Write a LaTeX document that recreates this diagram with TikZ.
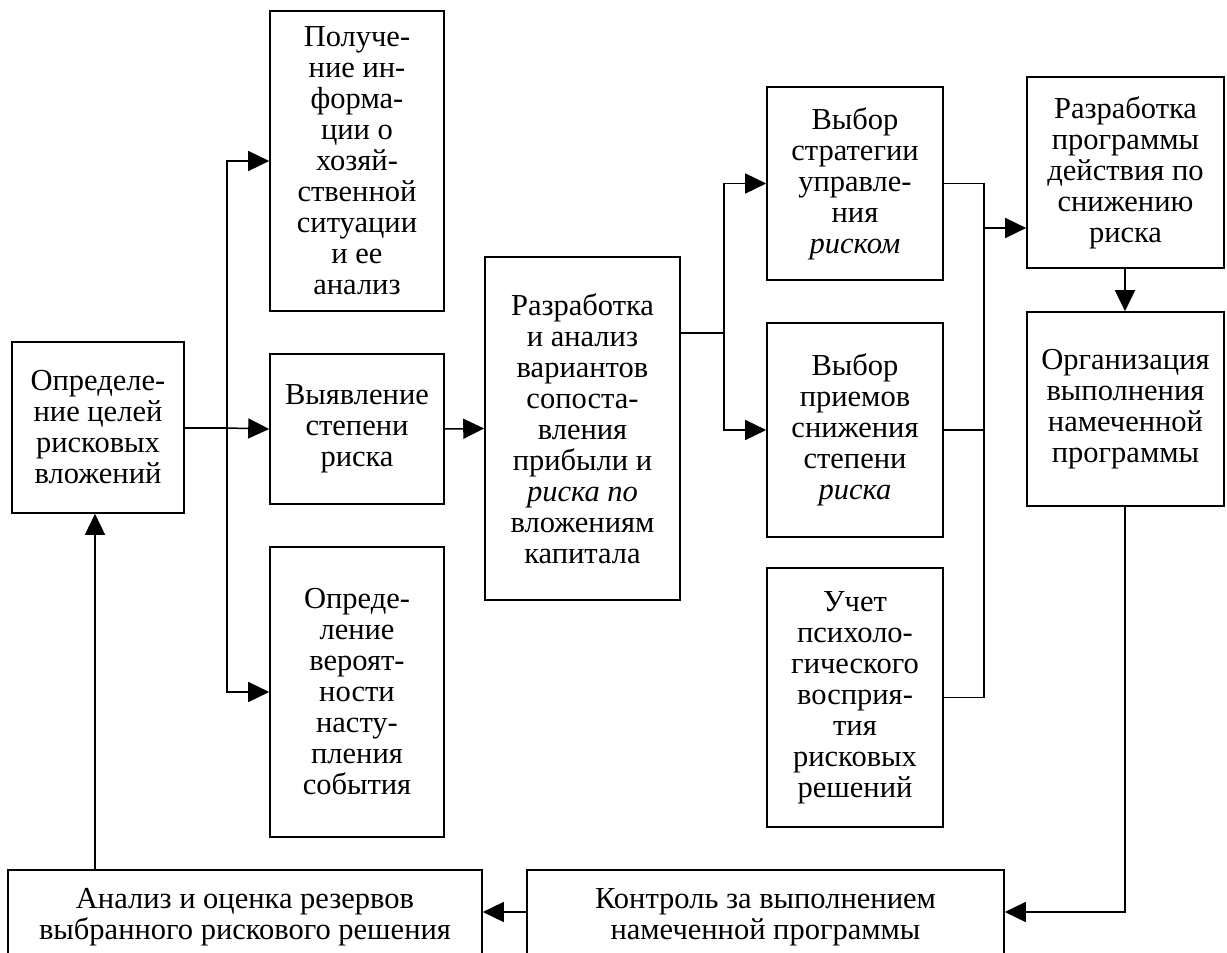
\documentclass[tikz,border=0pt]{standalone}
\usepackage{fontspec}
\setmainfont{Liberation Serif}
\usetikzlibrary{arrows.meta}
\begin{document}
\begin{tikzpicture}[x=1pt,y=-1pt,
  box/.style={draw,line width=1.6pt,align=center,inner sep=0pt,
    font=\fontsize{30.5}{31}\selectfont},
  link/.style={line width=1.5pt},
  arr/.style={link,-{Triangle[length=21pt,width=20pt]}}]
\useasboundingbox (0,0) rectangle (1227,953);
\clip (0,0) rectangle (1227,953);
\fill[white] (0,0) rectangle (1227,953);

% process blocks
\node[box,minimum width=172pt,minimum height=171pt] (A) at (98,427.5)
  {Определе-\\ние целей\\рисковых\\вложений};
\node[box,minimum width=174pt,minimum height=300pt] (B) at (357,161)
  {Получе-\\ние ин-\\форма-\\ции о\\хозяй-\\ственной\\ситуации\\и ее\\анализ};
\node[box,minimum width=174pt,minimum height=150pt] (C) at (357,429)
  {Выявление\\степени\\риска};
\node[box,minimum width=174pt,minimum height=290pt] (D) at (357,692)
  {Опреде-\\ление\\вероят-\\ности\\насту-\\пления\\события};
\node[box,minimum width=195pt,minimum height=343pt] (E) at (582.5,428.5)
  {Разработка\\и анализ\\вариантов\\сопоста-\\вления\\прибыли и\\\textit{риска по}\\вложениям\\капитала};
\node[box,minimum width=176pt,minimum height=193pt] (F) at (855,183.5)
  {Выбор\\стратегии\\управле-\\ния\\\textit{риском}};
\node[box,minimum width=176pt,minimum height=214pt] (G) at (855,430)
  {Выбор\\приемов\\снижения\\степени\\\textit{риска}};
\node[box,minimum width=176pt,minimum height=259pt] (H) at (855,697.5)
  {Учет\\психоло-\\гического\\восприя-\\тия\\рисковых\\решений};
\node[box,minimum width=197pt,minimum height=191pt] (I) at (1125.5,172.5)
  {Разработка\\программы\\действия по\\снижению\\риска};
\node[box,minimum width=197pt,minimum height=194pt] (J) at (1125.5,409)
  {Организация\\выполнения\\намеченной\\программы};
\node[box,minimum width=474pt,minimum height=95pt] (K) at (245,917.5)
  {Анализ и оценка резервов\\выбранного рискового решения};
\node[box,minimum width=477pt,minimum height=95pt] (L) at (765.5,917.5)
  {Контроль за выполнением\\намеченной программы};

% junction points
\coordinate (j1) at (227,428);
\coordinate (e1) at (680,333);
\coordinate (j2) at (724,333);
\coordinate (j3) at (984,228);
\coordinate (j4) at (1125,912);
\coordinate (k1) at (95,870);

% left fan-out
\draw[link] (A.east |- j1) -- (j1);
\draw[arr] (j1) -- (C.west);
\draw[arr] (j1) |- (B.west);
\draw[arr] (j1) |- (D.west);
\draw[arr] (C.east) -- (E.west);

% middle fan-out
\draw[link] (E.east |- e1) -- (j2);
\draw[arr] (j2) |- (F.west);
\draw[arr] (j2) |- (G.west);

% collecting bus on the right
\draw[link] (F.east) -| (j3 |- H.east) -- (H.east);
\draw[link] (G.east) -- (j3 |- G.east);
\draw[arr] (j3) -- (I.west |- j3);
\draw[arr] (I.south -| j4) -- (J.north -| j4);

% feedback loop along the bottom
\draw[arr] (J.south -| j4) -- (j4) -- (L.east |- j4);
\draw[arr] (L.west |- j4) -- (K.east |- j4);
\draw[arr] (k1) -- (A.south -| k1);
\end{tikzpicture}
\end{document}
